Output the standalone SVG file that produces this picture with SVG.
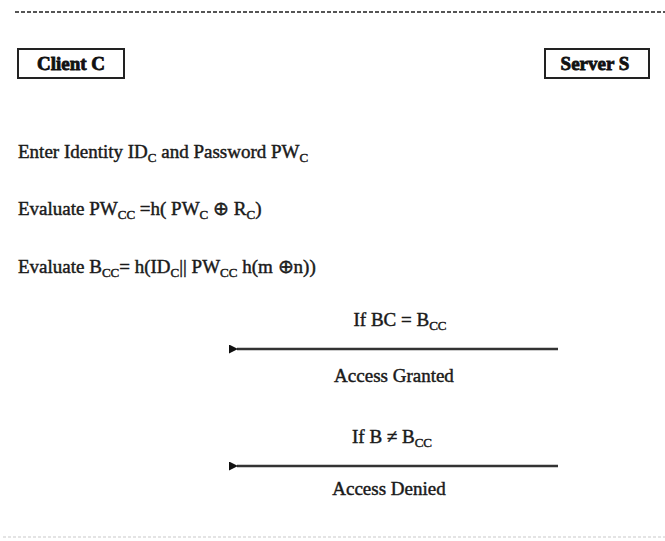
<svg xmlns="http://www.w3.org/2000/svg" width="665" height="541" viewBox="0 0 665 541">
<defs>
<style>
.t{font-family:"Liberation Serif","Times New Roman",serif;font-size:19px;fill:#1a1a1a;stroke:#1a1a1a;stroke-width:0.45;}
.s{font-size:13px;}
.box{fill:#fff;stroke:#222;stroke-width:2;}
.lbl{font-family:"Liberation Serif",serif;font-size:19px;font-weight:bold;fill:#111;stroke:#111;stroke-width:0.8;}
.conn{stroke:#333;stroke-width:2.5;fill:none;}
</style>
<marker id="ah" markerWidth="9" markerHeight="9" refX="1" refY="4.5" orient="auto" markerUnits="userSpaceOnUse">
<path d="M9,0 L0,4.5 L9,9 z" fill="#111"/>
</marker>
</defs>
<rect width="665" height="541" fill="#fff"/>
<line x1="15" y1="12" x2="665" y2="12" stroke="#555" stroke-width="2" stroke-dasharray="4,2"/>
<line x1="3" y1="537" x2="665" y2="537" stroke="#e4e4e4" stroke-width="2" stroke-dasharray="3,2"/>
<g id="client">
<rect class="box" x="18" y="49" width="106" height="29"/>
<text class="lbl" x="71" y="70" text-anchor="middle">Client C</text>
</g>
<g id="server">
<rect class="box" x="545" y="49" width="104" height="29"/>
<text class="lbl" x="595" y="70" text-anchor="middle">Server S</text>
</g>
<g id="steps">
<text class="t" x="18" y="158">Enter Identity ID<tspan class="s" dy="4">C</tspan><tspan dy="-4"> and Password PW</tspan><tspan class="s" dy="4">C</tspan></text>
<text class="t" x="18" y="215">Evaluate PW<tspan class="s" dy="4">CC</tspan><tspan dy="-4"> =h( PW</tspan><tspan class="s" dy="4">C</tspan><tspan dy="-4"> ⊕ R</tspan><tspan class="s" dy="4">C</tspan><tspan dy="-4">)</tspan></text>
<text class="t" x="18" y="273">Evaluate B<tspan class="s" dy="4">CC</tspan><tspan dy="-4">= h(ID</tspan><tspan class="s" dy="4">C</tspan><tspan dy="-4">|| PW</tspan><tspan class="s" dy="4">CC</tspan><tspan dy="-4"> h(m ⊕n))</tspan></text>
</g>
<g id="connectors">
<line class="conn" x1="558" y1="349" x2="237" y2="349" marker-end="url(#ah)"/>
<line class="conn" x1="558" y1="466" x2="237" y2="466" marker-end="url(#ah)"/>
</g>
<g id="msg1">
<text class="t" x="400" y="326" text-anchor="middle">If BC = B<tspan class="s" dy="4">CC</tspan></text>
<text class="t" x="394" y="382" text-anchor="middle">Access Granted</text>
</g>
<g id="msg2">
<text class="t" x="392" y="443" text-anchor="middle">If B ≠ B<tspan class="s" dy="4">CC</tspan></text>
<text class="t" x="389" y="495" text-anchor="middle">Access Denied</text>
</g>
</svg>
